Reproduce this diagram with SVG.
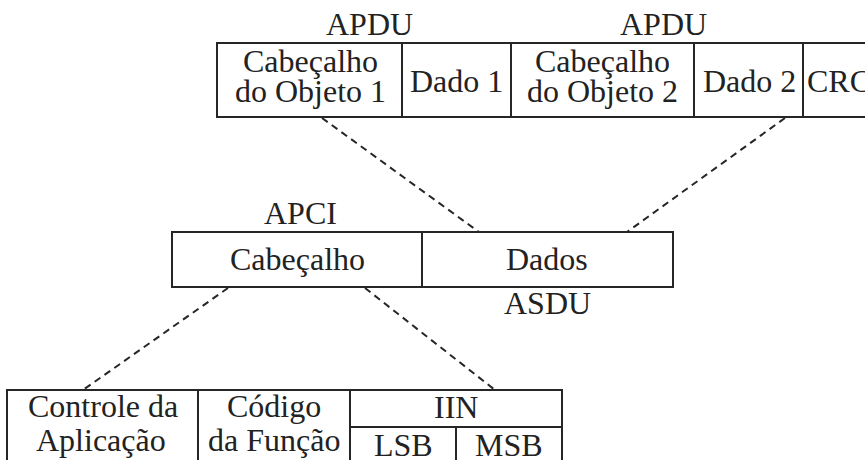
<svg xmlns="http://www.w3.org/2000/svg" width="865" height="460" viewBox="0 0 865 460">
  <rect width="865" height="460" fill="#ffffff"/>

  <!-- dashed expansion lines -->
  <g id="connectors" stroke="#262626" stroke-width="2" stroke-dasharray="7 5" fill="none">
    <line x1="322" y1="118" x2="479" y2="232"/>
    <line x1="785" y1="118" x2="627" y2="232"/>
    <line x1="228" y1="288" x2="83" y2="390"/>
    <line x1="365" y1="288" x2="495" y2="390"/>
  </g>

  <!-- field outlines -->
  <g id="outlines" stroke="#262626" stroke-width="2" fill="#ffffff">
    <path id="apdu-frame" fill="none" d="M 866 43 H 217 V 117 H 866 M 402 43 V 117 M 511 43 V 117 M 694 43 V 117 M 803 43 V 117"/>
    <rect id="apci-box" x="172" y="232" width="250" height="55"/>
    <rect id="asdu-box" x="422" y="232" width="251" height="55"/>
    <path id="header-fields" fill="none" d="M 7 461 V 390 H 562 V 461 M 198 390 V 461 M 350 390 V 461 M 350 427 H 562 M 456 427 V 461"/>
  </g>

  <!-- labels: x values are left edges, set so each label sits centred in its cell -->
  <g font-size="32" fill="#222222">
    <g id="apdu-labels">
      <text font-family="Liberation Serif" x="326" y="35">APDU</text>
      <text font-family="Liberation Serif" x="620" y="35">APDU</text>
    </g>
    <g id="obj1-header">
      <text font-family="Liberation Serif" x="243" y="72">Cabeçalho</text>
      <text font-family="Liberation Serif" x="235" y="102">do Objeto 1</text>
    </g>
    <g id="obj1-data">
      <text font-family="Liberation Serif" x="410" y="92">Dado 1</text>
    </g>
    <g id="obj2-header">
      <text font-family="Liberation Serif" x="535" y="72">Cabeçalho</text>
      <text font-family="Liberation Serif" x="527" y="102">do Objeto 2</text>
    </g>
    <g id="obj2-data">
      <text font-family="Liberation Serif" x="703" y="92">Dado 2</text>
    </g>
    <g id="crc">
      <text font-family="Liberation Serif" x="807" y="92">CRC</text>
    </g>

    <!-- APCI header + ASDU data -->
    <g id="apci">
      <text font-family="Liberation Serif" x="264" y="224">APCI</text>
      <text font-family="Liberation Serif" x="230" y="270">Cabeçalho</text>
    </g>
    <g id="asdu">
      <text font-family="Liberation Serif" x="506" y="270">Dados</text>
      <text font-family="Liberation Serif" x="504" y="314">ASDU</text>
    </g>

    <!-- header fields -->
    <g id="app-control">
      <text font-family="Liberation Serif" x="28" y="417">Controle da</text>
      <text font-family="Liberation Serif" x="36" y="451">Aplicação</text>
    </g>
    <g id="function-code">
      <text font-family="Liberation Serif" x="227" y="417">Código</text>
      <text font-family="Liberation Serif" x="208" y="451">da Função</text>
    </g>
    <g id="iin">
      <text font-family="Liberation Serif" x="434" y="418">IIN</text>
    </g>
    <g id="iin-lsb">
      <text font-family="Liberation Serif" x="374" y="456">LSB</text>
    </g>
    <g id="iin-msb">
      <text font-family="Liberation Serif" x="475" y="456">MSB</text>
    </g>
  </g>
</svg>
